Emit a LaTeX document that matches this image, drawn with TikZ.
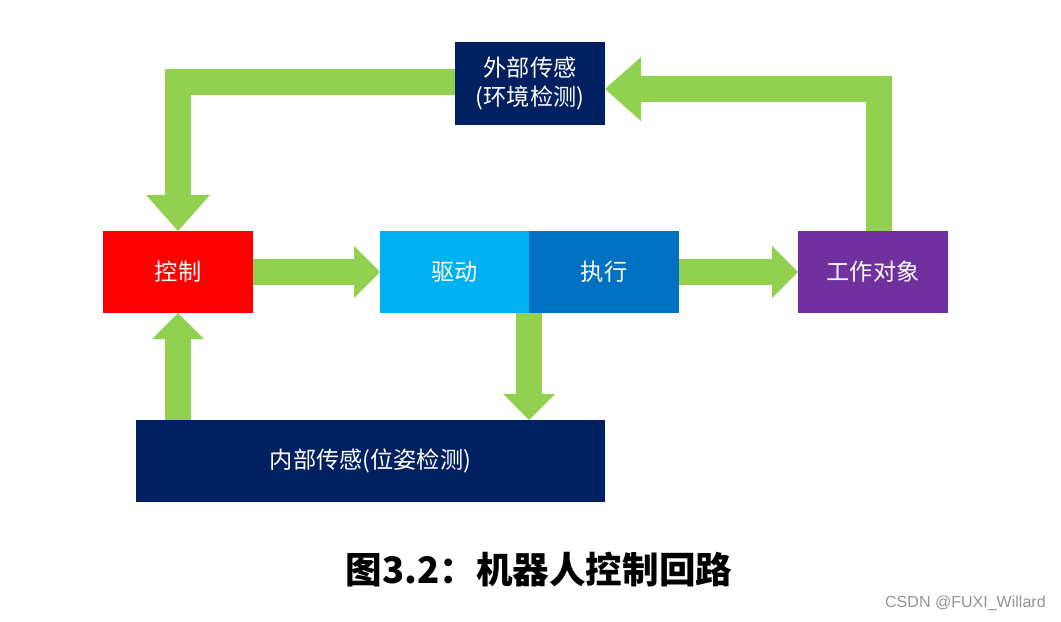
\documentclass[tikz,border=0pt]{standalone}
\usepackage{fontspec}
\setmainfont{Noto Sans CJK SC}
\newfontfamily\markfont{Liberation Sans}
\usepackage{xcolor}
\usepackage{tikz}
\usetikzlibrary{arrows.meta,positioning,calc}

\definecolor{loopgreen}{HTML}{92D050}
\definecolor{ctrlred}{HTML}{FF0000}
\definecolor{drvblue}{HTML}{00B0F0}
\definecolor{exeblue}{HTML}{0070C0}
\definecolor{objpurple}{HTML}{7030A0}
\definecolor{sensnavy}{HTML}{002060}

\begin{document}
\begin{tikzpicture}[
    x=0.025cm, y=-0.025cm,
    node distance=3.175cm,
    blk/.style={rectangle, text=white, align=center, inner sep=0pt, outer sep=0pt, minimum height=2.05cm, minimum width=3.75cm, font=\fontsize{16.5}{21}\selectfont},
    flow/.style={-{Triangle[width=1.3cm, length=0.65cm, line width=0pt]}, line width=0.65cm, draw=loopgreen},
    bigflow/.style={-{Triangle[width=1.6cm, length=0.9cm, line width=0pt]}, line width=0.65cm, draw=loopgreen, line join=miter}
]
    \useasboundingbox [fill=white] (0,0) rectangle (1061,621);

    \node [blk, fill=ctrlred] (ctrl) at (178,272) {控制};
    \node [blk, fill=drvblue, minimum width=3.725cm, right=of ctrl] (drv) {驱动};
    \node [blk, fill=exeblue, right=0cm of drv] (exe) {执行};
    \node [blk, fill=objpurple, right=2.975cm of exe] (obj) {工作对象};
    \node [blk, fill=sensnavy] (ext) at (530,83.5) {外部传感\\(环境检测)};
    \node [blk, fill=sensnavy, minimum width=11.725cm] (intl) at (370.5,461) {内部传感(位姿检测)};

    \draw [flow] (ctrl) -- (drv);
    \draw [flow] (exe) -- (obj);
    \draw [flow] (drv.south east) -- (drv.south east |- intl.north);
    \draw [flow] (ctrl.south |- intl.north) -- (ctrl.south);
    \draw [bigflow] ($(obj.north)+(6,0)$) |- ($(ext.east)+(0,5.5)$);
    \draw [bigflow] ($(ext.west)+(0,-1.5)$) -| (ctrl.north);

    \node [font=\fontsize{26}{30}\selectfont\bfseries] (cap) at (539,570) {图3.2：机器人控制回路};
    \node [anchor=east, inner sep=0pt, text=black!42, font=\markfont\fontsize{11.4}{13}\selectfont] (mark) at (1046,603) {CSDN @FUXI\_Willard};
\end{tikzpicture}
\end{document}
